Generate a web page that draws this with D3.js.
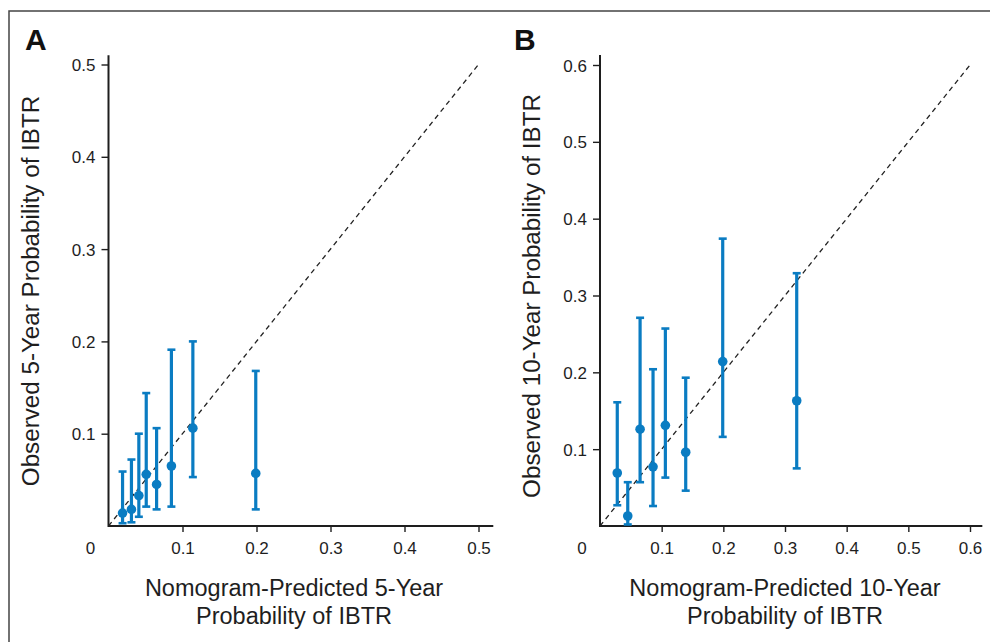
<!DOCTYPE html>
<html>
<head>
<meta charset="utf-8">
<script src="https://cdn.jsdelivr.net/npm/d3@7"></script>
<style>
  body { margin: 0; background: #fff; }
  svg { display: block; font-family: "Liberation Sans", Arial, sans-serif; }
</style>
</head>
<body>
<svg id="chart" width="990" height="642"></svg>
<script>
// panel A: 5-year
var predA = [0.019, 0.031, 0.041, 0.051, 0.065, 0.085, 0.114, 0.199];
var obsA  = [0.014, 0.018, 0.033, 0.056, 0.045, 0.065, 0.106, 0.057];
var lowA  = [0.003, 0.004, 0.010, 0.021, 0.018, 0.021, 0.053, 0.018];
var highA = [0.059, 0.072, 0.100, 0.144, 0.106, 0.191, 0.200, 0.168];
var ticksA = [0.1, 0.2, 0.3, 0.4, 0.5];

// panel B: 10-year
var predB = [0.028, 0.045, 0.065, 0.086, 0.106, 0.139, 0.199, 0.319];
var obsB  = [0.069, 0.013, 0.126, 0.077, 0.131, 0.096, 0.214, 0.163];
var lowB  = [0.027, 0.002, 0.057, 0.026, 0.063, 0.046, 0.116, 0.075];
var highB = [0.161, 0.057, 0.271, 0.204, 0.257, 0.193, 0.374, 0.329];
var ticksB = [0.1, 0.2, 0.3, 0.4, 0.5, 0.6];

var blue = "#0a7cc2";
var ink = "#1e1e1e";
var svg = d3.select("#chart");

// figure frame (top and left edges only visible)
svg.append("path")
    .attr("d", "M9,642V11H990")
    .attr("fill", "none")
    .attr("stroke", "#444")
    .attr("stroke-width", 1.5);

function drawPanel(opt) {
    var x = d3.scaleLinear().domain([0, opt.max]).range(opt.xRange);
    var y = d3.scaleLinear().domain([0, opt.max]).range(opt.yRange);
    var g = svg.append("g");
    var data = opt.pred.map((p, i) => ({ p: p, o: opt.obs[i], lo: opt.low[i], hi: opt.high[i] }));

    var xAxis = d3.axisBottom(x).tickValues(opt.ticks).tickSize(6).tickSizeOuter(0)
        .tickFormat(d3.format(".1f"));
    var yAxis = d3.axisLeft(y).tickValues(opt.ticks).tickSize(7).tickSizeOuter(0)
        .tickFormat(d3.format(".1f"));

    var gx = g.append("g").attr("transform", `translate(0,${y(0)})`).call(xAxis);
    var gy = g.append("g").attr("transform", `translate(${x(0)},0)`).call(yAxis);
    [gx, gy].forEach(a => {
        a.select(".domain").remove();
        a.selectAll(".tick line").attr("stroke", ink).attr("stroke-width", 1.4);
        a.selectAll(".tick text").attr("fill", ink).style("font-size", "17px");
    });
    gx.selectAll(".tick text").attr("dy", null).attr("y", 28);
    gy.selectAll(".tick text").attr("x", -13).attr("dy", "0.36em");

    // axis lines
    g.append("line")
        .attr("x1", x(0)).attr("x2", x(opt.xEnd))
        .attr("y1", y(0)).attr("y2", y(0))
        .attr("stroke", ink).attr("stroke-width", 2);
    g.append("line")
        .attr("x1", x(0)).attr("x2", x(0))
        .attr("y1", y(0) + 1).attr("y2", y(opt.yEnd))
        .attr("stroke", ink).attr("stroke-width", 2);

    // origin label
    g.append("text")
        .attr("x", x(0) - 18).attr("y", y(0) + 28)
        .attr("text-anchor", "middle")
        .attr("fill", ink)
        .style("font-size", "17px")
        .text("0");

    // reference diagonal
    g.append("line")
        .attr("x1", x(0)).attr("y1", y(0))
        .attr("x2", x(opt.max)).attr("y2", y(opt.max))
        .attr("stroke", "#222").attr("stroke-width", 1.3)
        .attr("stroke-dasharray", "5,4");

    // error bars
    var bars = g.selectAll(".bar").data(data).enter().append("g");
    bars.append("line")
        .attr("x1", d => x(d.p)).attr("x2", d => x(d.p))
        .attr("y1", d => y(d.lo)).attr("y2", d => y(d.hi))
        .attr("stroke", blue).attr("stroke-width", 3.2);
    bars.selectAll(".cap").data(d => [[d.p, d.lo], [d.p, d.hi]]).enter().append("line")
        .attr("x1", d => x(d[0]) - 4).attr("x2", d => x(d[0]) + 4)
        .attr("y1", d => y(d[1])).attr("y2", d => y(d[1]))
        .attr("stroke", blue).attr("stroke-width", 2.6);
    bars.append("circle")
        .attr("cx", d => x(d.p)).attr("cy", d => y(d.o))
        .attr("r", 4.8)
        .attr("fill", blue);

    // panel letter
    svg.append("text")
        .attr("x", opt.letterX).attr("y", 50)
        .style("font-size", "30px").style("font-weight", "bold")
        .attr("fill", "#111")
        .text(opt.letter);

    // axis titles
    var xt = svg.append("text")
        .attr("text-anchor", "middle")
        .attr("fill", ink)
        .style("font-size", "23.5px");
    xt.append("tspan").attr("x", opt.xTitleX).attr("y", 596).text(opt.xTitle[0]);
    xt.append("tspan").attr("x", opt.xTitleX).attr("y", 624).text(opt.xTitle[1]);

    svg.append("text")
        .attr("transform", `translate(${opt.yTitleX},${opt.yTitleY}) rotate(-90)`)
        .attr("text-anchor", "middle")
        .attr("fill", ink)
        .style("font-size", "24.2px")
        .text(opt.yTitle);
}

drawPanel({
    pred: predA, obs: obsA, low: lowA, high: highA, ticks: ticksA,
    max: 0.5, xEnd: 0.52, yEnd: 0.51,
    xRange: [108.5, 478.5], yRange: [526, 64.5],
    letter: "A", letterX: 25,
    xTitle: ["Nomogram-Predicted 5-Year", "Probability of IBTR"], xTitleX: 294,
    yTitle: "Observed 5-Year Probability of IBTR", yTitleX: 39, yTitleY: 291
});

drawPanel({
    pred: predB, obs: obsB, low: lowB, high: highB, ticks: ticksB,
    max: 0.6, xEnd: 0.62, yEnd: 0.613,
    xRange: [600, 970], yRange: [526, 65],
    letter: "B", letterX: 514,
    xTitle: ["Nomogram-Predicted 10-Year", "Probability of IBTR"], xTitleX: 785,
    yTitle: "Observed 10-Year Probability of IBTR", yTitleX: 540, yTitleY: 296
});
</script>
</body>
</html>
